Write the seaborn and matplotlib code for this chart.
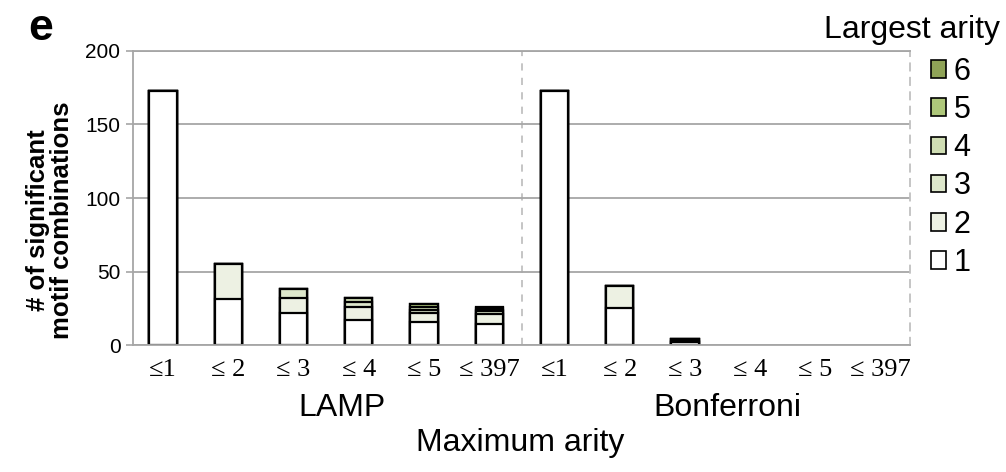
import matplotlib
matplotlib.use("Agg")
import numpy as np
import pandas as pd
import seaborn as sns
import matplotlib.pyplot as plt
from matplotlib.patches import Patch

# Categories
thresholds = ["≤1", "≤ 2", "≤ 3", "≤ 4", "≤ 5", "≤ 397"]
methods = ["LAMP", "Bonferroni"]
arities = [1, 2, 3, 4, 5, 6]

# Number of significant combinations, split by their largest arity
lamp_counts = {
    1: [173, 31, 22, 17, 16, 14],
    2: [0, 24, 10, 9, 6, 7],
    3: [0, 0, 6, 3, 2, 2],
    4: [0, 0, 0, 3, 2, 1],
    5: [0, 0, 0, 0, 2, 1],
    6: [0, 0, 0, 0, 0, 1],
}
bonf_counts = {
    1: [173, 25, 2, 0, 0, 0],
    2: [0, 15, 1, 0, 0, 0],
    3: [0, 0, 1, 0, 0, 0],
    4: [0, 0, 0, 0, 0, 0],
    5: [0, 0, 0, 0, 0, 0],
    6: [0, 0, 0, 0, 0, 0],
}

arity_colors = {1: "#FFFFFF", 2: "#EDF1E3", 3: "#DDE7CB",
                4: "#CFDDB3", 5: "#AEC77A", 6: "#8FA357"}

# Long-form table with cumulative heights for stacking
rows = []
for method, counts in zip(methods, [lamp_counts, bonf_counts]):
    for i, thr in enumerate(thresholds):
        total = 0
        for a in arities:
            total += counts[a][i]
            rows.append({"slot": f"{method} {thr}", "arity": a,
                         "count": counts[a][i], "cum": total})
df = pd.DataFrame(rows)
slots = [f"{m} {t}" for m in methods for t in thresholds]

sns.set_theme(style="white")
plt.rcParams["font.family"] = ["Liberation Sans", "DejaVu Sans"]
plt.rcParams["text.color"] = "black"
plt.rcParams["xtick.color"] = "black"
plt.rcParams["ytick.color"] = "black"
plt.rcParams["xtick.labelcolor"] = "black"
plt.rcParams["ytick.labelcolor"] = "black"

fig = plt.figure(figsize=(10.06, 4.72), dpi=100)
ax = fig.add_axes([0.1322, 0.269, 0.7724, 0.623])

grey = "#A6A6A6"
ax.yaxis.grid(True, color=grey, lw=1.3)
ax.set_axisbelow(True)

# Draw the stack from the top layer down so lower layers cover upper ones
for a in reversed(arities):
    sub = df[df["arity"] == a]
    sns.barplot(data=sub, x="slot", y="cum", order=slots, color=arity_colors[a],
                saturation=1, edgecolor="black", linewidth=1.6, width=0.42,
                errorbar=None, ax=ax)

for p in ax.patches:
    if p.get_height() == 0:
        p.set_linewidth(0)

ax.axvline(5.5, color="#C0C0C0", lw=1.3, ls=(0, (4, 4)), zorder=0.5)

ax.set_ylim(0, 200)
ax.set_yticks([0, 50, 100, 150, 200])
ax.set_xlim(-0.46, 11.45)
ax.set_xticks(range(len(slots)))
ax.set_xticklabels(thresholds * 2, fontfamily="Liberation Serif", fontsize=19)
ax.tick_params(axis="x", length=0, pad=10)
ax.tick_params(axis="y", left=True, length=5, width=1.2, color=grey,
               labelsize=15, pad=4, direction="out")
ax.set_xlabel("")
ax.set_ylabel("")

for side in ["left", "bottom", "top"]:
    ax.spines[side].set_color(grey)
    ax.spines[side].set_linewidth(1.3)
ax.spines["right"].set_color("#C0C0C0")
ax.spines["right"].set_linewidth(1.3)
ax.spines["right"].set_linestyle((0, (4, 4)))

# Group labels and axis titles
trans = ax.get_xaxis_transform()
ax.text(2.75, -0.215, "LAMP", transform=trans, ha="center", va="center", fontsize=23)
ax.text(8.65, -0.215, "Bonferroni", transform=trans, ha="center", va="center", fontsize=23)
fig.text(0.517, 0.061, "Maximum arity", ha="center", va="center", fontsize=23)
fig.text(0.05, 0.534, "# of significant\nmotif combinations", rotation=90,
         ha="center", va="center", fontsize=18.5, fontweight="bold", linespacing=1.0)
fig.text(0.04, 0.94, "e", ha="center", va="center", fontsize=32, fontweight="bold")

# Legend: title set separately, entries stacked below it
fig.text(0.994, 0.936, "Largest arity", ha="right", va="center", fontsize=23)
handles = [Patch(facecolor=arity_colors[a], edgecolor="black", linewidth=1.2,
                 label=str(a)) for a in reversed(arities)]
leg = fig.legend(handles=handles, loc="upper left",
                 bbox_to_anchor=(0.925, 0.88), frameon=False, fontsize=22,
                 handlelength=0.5, handleheight=0.5,
                 handletextpad=0.25, labelspacing=0.27, borderpad=0.0,
                 borderaxespad=0.0)

fig.savefig("out.png", dpi=100)
